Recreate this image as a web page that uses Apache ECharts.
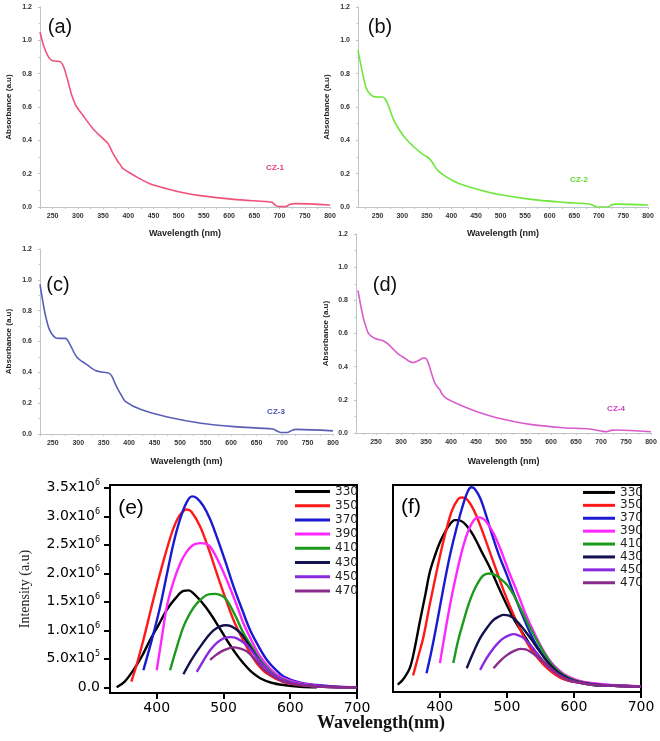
<!DOCTYPE html>
<html><head><meta charset="utf-8">
<script src="https://cdn.jsdelivr.net/npm/echarts@6/dist/echarts.min.js"></script>
<style>html,body{margin:0;padding:0;background:#fff}#c{width:660px;height:741px}</style>
</head><body><div id="c"></div>
<script>
// ---------- Absorbance data (a)-(d): [wavelength nm, absorbance a.u.] ----------
const absCZ1 = [[225,1.05],[232,0.97],[240,0.91],[248,0.88],[258,0.875],[266,0.87],[272,0.84],[280,0.76],[288,0.67],[296,0.61],[310,0.55],[330,0.47],[350,0.41],[360,0.38],[370,0.32],[380,0.27],[385,0.25],[388,0.235],[400,0.21],[420,0.175],[443,0.14],[476,0.11],[509,0.086],[543,0.068],[609,0.046],[675,0.032],[685,0.028],[692,0.01],[700,0.002],[712,0.002],[720,0.015],[730,0.02],[800,0.012]];
const absCZ2 = [[210,0.94],[216,0.85],[221,0.78],[226,0.72],[231,0.69],[240,0.665],[252,0.66],[260,0.66],[266,0.645],[273,0.60],[283,0.52],[297,0.45],[310,0.40],[324,0.36],[340,0.32],[351,0.30],[358,0.28],[365,0.25],[372,0.22],[385,0.19],[405,0.155],[426,0.13],[460,0.10],[494,0.076],[562,0.046],[630,0.028],[680,0.018],[688,0.01],[695,0.0],[718,0.0],[726,0.014],[735,0.017],[800,0.012]];
const absCZ3 = [[225,0.97],[230,0.87],[235,0.78],[242,0.69],[248,0.65],[255,0.625],[262,0.62],[275,0.62],[284,0.58],[297,0.50],[317,0.45],[335,0.41],[350,0.40],[360,0.395],[366,0.375],[372,0.33],[378,0.29],[385,0.25],[393,0.21],[422,0.16],[475,0.11],[541,0.07],[606,0.048],[682,0.032],[690,0.02],[698,0.01],[711,0.01],[720,0.025],[728,0.03],[800,0.02]];
const absCZ4 = [[214,0.86],[220,0.76],[225,0.69],[230,0.64],[235,0.60],[248,0.57],[265,0.555],[275,0.535],[283,0.51],[293,0.48],[303,0.46],[315,0.435],[323,0.425],[330,0.43],[337,0.44],[345,0.452],[350,0.45],[356,0.41],[362,0.35],[368,0.30],[375,0.27],[378,0.26],[382,0.235],[390,0.21],[410,0.18],[425,0.16],[460,0.12],[491,0.092],[558,0.052],[625,0.032],[678,0.024],[700,0.012],[711,0.008],[720,0.016],[730,0.018],[800,0.008]];

const absTickLabels = [250,300,350,400,450,500,550,600,650,700,750,800];
const absMinorTicks = [225,250,275,300,325,350,375,400,425,450,475,500,525,550,575,600,625,650,675,700,725,750,775,800];

// ---------- Emission data (e),(f): [wavelength nm, intensity x10^6 a.u.] ----------
const excitation = ['330','350','370','390','410','430','450','470'];
const e330 = [[340,0.0],[352,0.1],[365,0.3],[378,0.55],[390,0.83],[403,1.1],[415,1.36],[428,1.56],[440,1.69],[448,1.70],[455,1.65],[467,1.50],[480,1.30],[493,1.06],[505,0.83],[518,0.60],[530,0.42],[542,0.27],[555,0.16],[572,0.08],[590,0.04],[615,0.01],[640,0.0]];
const e350 = [[362,0.1],[370,0.4],[380,0.83],[393,1.45],[405,2.0],[415,2.42],[425,2.79],[435,3.03],[445,3.12],[452,3.08],[465,2.82],[478,2.42],[490,2.0],[503,1.56],[515,1.18],[528,0.86],[540,0.6],[552,0.39],[565,0.24],[590,0.09],[615,0.04],[650,0.01],[700,0.0]];
const e370 = [[380,0.3],[393,0.85],[405,1.41],[415,1.97],[425,2.52],[435,2.95],[445,3.25],[453,3.35],[460,3.32],[470,3.18],[480,2.95],[490,2.64],[503,2.2],[515,1.77],[528,1.36],[540,1.0],[553,0.71],[565,0.48],[578,0.31],[590,0.19],[615,0.08],[640,0.04],[670,0.01],[700,0.0]];
const e390 = [[400,0.3],[408,0.9],[415,1.41],[425,1.85],[435,2.17],[445,2.38],[455,2.50],[465,2.53],[473,2.52],[480,2.47],[492,2.22],[505,1.88],[518,1.5],[530,1.12],[543,0.8],[555,0.54],[568,0.35],[580,0.22],[598,0.12],[615,0.07],[650,0.02],[700,0.0]];
const e410 = [[420,0.3],[430,0.7],[440,1.06],[450,1.3],[460,1.47],[475,1.62],[488,1.64],[497,1.61],[505,1.53],[518,1.25],[530,0.95],[543,0.7],[555,0.48],[568,0.31],[580,0.19],[598,0.1],[615,0.05],[650,0.01],[700,0.0]];
const e430 = [[440,0.23],[452,0.48],[465,0.71],[475,0.87],[485,1.0],[495,1.07],[503,1.09],[512,1.07],[525,0.96],[535,0.8],[545,0.62],[557,0.42],[570,0.26],[585,0.14],[605,0.07],[640,0.02],[700,0.0]];
const e450 = [[460,0.27],[470,0.47],[480,0.65],[490,0.78],[500,0.86],[510,0.88],[520,0.86],[535,0.74],[548,0.55],[560,0.38],[575,0.22],[590,0.12],[615,0.05],[650,0.01],[700,0.0]];
const e470 = [[480,0.48],[488,0.56],[497,0.63],[507,0.68],[515,0.70],[525,0.68],[535,0.63],[548,0.48],[560,0.32],[575,0.19],[590,0.10],[615,0.04],[650,0.01],[700,0.0]];

const f330 = [[337,0.03],[345,0.12],[355,0.32],[362,0.65],[370,1.14],[378,1.6],[385,2.02],[393,2.32],[400,2.54],[408,2.73],[415,2.86],[422,2.93],[428,2.93],[435,2.89],[442,2.8],[450,2.66],[462,2.38],[475,2.08],[487,1.76],[500,1.43],[512,1.15],[525,0.91],[537,0.69],[550,0.50],[562,0.33],[575,0.2],[590,0.11],[605,0.07],[630,0.02],[660,0.01],[700,0.0]];
const f350 = [[360,0.19],[367,0.5],[375,0.85],[385,1.45],[395,2.02],[403,2.45],[410,2.78],[418,3.1],[427,3.3],[433,3.33],[440,3.3],[450,3.12],[460,2.84],[472,2.45],[485,2.02],[497,1.63],[510,1.26],[522,0.95],[535,0.67],[548,0.47],[560,0.32],[580,0.15],[600,0.08],[630,0.03],[660,0.01],[700,0.0]];
const f370 = [[380,0.23],[387,0.6],[395,1.08],[405,1.72],[415,2.31],[425,2.8],[435,3.22],[442,3.45],[447,3.51],[452,3.48],[460,3.32],[468,3.05],[475,2.78],[487,2.35],[500,1.96],[512,1.58],[525,1.2],[537,0.88],[550,0.61],[562,0.41],[575,0.26],[590,0.15],[600,0.11],[625,0.05],[650,0.02],[700,0.0]];
const f390 = [[400,0.41],[407,0.9],[415,1.43],[425,2.0],[435,2.48],[443,2.76],[450,2.92],[457,2.98],[464,2.96],[470,2.89],[480,2.7],[490,2.43],[502,2.05],[515,1.67],[527,1.3],[540,0.96],[552,0.68],[565,0.44],[578,0.28],[590,0.18],[607,0.1],[625,0.06],[660,0.02],[700,0.0]];
const f410 = [[420,0.41],[427,0.8],[435,1.14],[442,1.42],[450,1.67],[458,1.85],[465,1.96],[475,1.99],[483,1.96],[490,1.9],[500,1.79],[510,1.61],[522,1.33],[535,1.02],[548,0.74],[560,0.50],[572,0.32],[585,0.2],[600,0.11],[625,0.04],[660,0.01],[700,0.0]];
const f430 = [[440,0.32],[450,0.6],[460,0.85],[470,1.03],[480,1.17],[488,1.23],[495,1.26],[502,1.25],[510,1.2],[522,1.05],[535,0.85],[548,0.63],[560,0.44],[572,0.29],[585,0.18],[600,0.1],[625,0.04],[660,0.01],[700,0.0]];
const f450 = [[460,0.29],[470,0.5],[480,0.67],[488,0.78],[495,0.85],[503,0.9],[510,0.92],[517,0.9],[525,0.85],[537,0.7],[550,0.50],[562,0.34],[575,0.22],[590,0.12],[610,0.06],[640,0.02],[700,0.0]];
const f470 = [[480,0.32],[490,0.45],[500,0.55],[510,0.62],[520,0.66],[528,0.65],[535,0.61],[548,0.5],[560,0.38],[572,0.25],[585,0.15],[600,0.09],[625,0.03],[660,0.01],[700,0.0]];

const intensityTicks = [0,0.5e6,1.0e6,1.5e6,2.0e6,2.5e6,3.0e6,3.5e6];
const emTickLabels = [400,500,600,700];

// ---------- styling ----------
const absColors = ['#f0527a','#6fe63a','#5a5fb6','#d85ccb'];
const absText = ['#e8406e','#62dc30','#4a50b0','#d040c4'];
const emColors = ['#000000','#ff1a1a','#1a1ad0','#ff26ff','#1c9a1c','#12124e','#8a2ae0','#8a2a8a'];

const chart = echarts.init(document.getElementById('c'), null, {renderer:'canvas'});

const absGrids = [
  {left:40, top:7, width:290, height:200, xmin:225},
  {left:358, top:7, width:290, height:200, xmin:210},
  {left:40, top:249, width:293, height:185, xmin:225},
  {left:356, top:234, width:295, height:199, xmin:210}
];
const absYGap = [27, 27, 27, 26];
const absXGap = [22, 22, 23, 24];

const grid = [], xAxis = [], yAxis = [], series = [];
const axGray = '#bcc4cc';
const tinyLabel = {fontSize:7, fontWeight:'bold', fontFamily:'Liberation Sans', color:'#333'};

absGrids.forEach((g,i)=>{
  grid.push({left:g.left, top:g.top, width:g.width, height:g.height});
  xAxis.push({type:'value', gridIndex:i, min:g.xmin, max:800,
    name:'Wavelength (nm)', nameLocation:'middle', nameGap:absXGap[i],
    nameTextStyle:{fontSize:9, fontWeight:'bold', fontFamily:'Liberation Sans', color:'#222'},
    axisLine:{show:true, onZero:false, lineStyle:{color:axGray, width:1}},
    axisTick:{show:true, length:2, inside:false, customValues:absMinorTicks.filter(v=>v>=g.xmin), lineStyle:{color:axGray}},
    axisLabel:{customValues:absTickLabels, margin:6, ...tinyLabel},
    splitLine:{show:false}});
  yAxis.push({type:'value', gridIndex:i, min:0, max:1.2, interval:0.2,
    name:'Absorbance (a.u)', nameLocation:'middle', nameGap:absYGap[i], nameRotate:90,
    nameTextStyle:{fontSize:8, fontWeight:'bold', fontFamily:'Liberation Sans', color:'#222'},
    axisLine:{show:true, lineStyle:{color:axGray, width:1}},
    axisTick:{show:true, length:2, lineStyle:{color:axGray}},
    minorTick:{show:true, splitNumber:2, length:1.5, lineStyle:{color:axGray}},
    axisLabel:{margin:8, formatter:v=>v.toFixed(1), ...tinyLabel},
    splitLine:{show:false}});
});
[absCZ1,absCZ2,absCZ3,absCZ4].forEach((d,i)=>{
  series.push({type:'line', name:'CZ-'+(i+1), xAxisIndex:i, yAxisIndex:i, data:d,
    showSymbol:false, smooth:0.3, lineStyle:{color:absColors[i], width:1.6}, itemStyle:{color:absColors[i]}, silent:true});
});

// emission panels
function sciLabel(v){
  if (Math.abs(v) < 1) return '{b|0.0}';
  const e = Math.floor(Math.log10(v) + 1e-9);
  const m = (v/Math.pow(10,e)).toFixed(1);
  return '{b|' + m + 'x10}{s|' + e + '}';
}
const emGrids = [
  {left:110, top:485, width:247, height:208},
  {left:393, top:485, width:248, height:207}
];
emGrids.forEach((g,k)=>{
  const gi = 4+k;
  grid.push({left:g.left, top:g.top, width:g.width, height:g.height, show:true, borderColor:'#000', borderWidth:2, backgroundColor:'transparent'});
  xAxis.push({type:'value', gridIndex:gi, min:330, max:700,
    axisLine:{show:true, onZero:false, lineStyle:{color:'#000', width:2}},
    axisTick:{show:true, length:6, customValues:emTickLabels, lineStyle:{color:'#000', width:2}},
    axisLabel:{customValues:emTickLabels, margin:8, fontSize:14, fontFamily:'DejaVu Sans', color:'#000'},
    splitLine:{show:false}});
  yAxis.push({type:'value', gridIndex:gi, min:-0.1e6, max:3.55e6,
    name: k===0 ? 'Intensity (a.u)' : '', nameLocation:'middle', nameGap:78, nameRotate:90,
    nameTextStyle:{fontSize:14, fontFamily:'Liberation Serif', color:'#222'},
    axisLine:{show:true, onZero:false, lineStyle:{color:'#000', width:2}},
    axisTick:{show:k===0, length:6, customValues:intensityTicks, lineStyle:{color:'#000', width:2}},
    axisLabel:{show:k===0, customValues:intensityTicks, margin:10, formatter:sciLabel,
      rich:{b:{fontSize:14, fontFamily:'DejaVu Sans', color:'#000'},
            s:{fontSize:8, fontFamily:'DejaVu Sans', color:'#000', padding:[0,0,9,0]}}},
    splitLine:{show:false}});
});
const eSets = [e330,e350,e370,e390,e410,e430,e450,e470];
const fSets = [f330,f350,f370,f390,f410,f430,f450,f470];
[eSets,fSets].forEach((sets,k)=>{
  sets.forEach((d,i)=>{
    series.push({type:'line', name:excitation[i], xAxisIndex:4+k, yAxisIndex:4+k,
      data:d.map(p=>[p[0], p[1]*1e6]), showSymbol:false, smooth:0.35,
      lineStyle:{color:emColors[i], width:2.4}, itemStyle:{color:emColors[i]}, silent:true});
  });
});

const legendCommon = {orient:'vertical', icon:'rect', itemHeight:3, selectedMode:false, padding:0,
  data:excitation.slice(), textStyle:{fontSize:12, fontFamily:'DejaVu Sans', color:'#222'}};

const txt = (t,x,y,size,color,font,weight,rot)=>({type:'text', x:x, y:y, rotation:rot||0,
  style:{text:t, fill:color, fontSize:size, fontFamily:font, fontWeight:weight||'normal', textAlign:'center', textVerticalAlign:'middle'}, silent:true});

chart.setOption({
  animation:false,
  backgroundColor:'#fff',
  grid, xAxis, yAxis, series,
  legend:[
    Object.assign({}, legendCommon, {left:295, top:485, itemWidth:35, itemGap:1.2, textStyle:Object.assign({}, legendCommon.textStyle, {lineHeight:13})}),
    Object.assign({}, legendCommon, {left:583, top:486, itemWidth:32, itemGap:0, textStyle:Object.assign({}, legendCommon.textStyle, {lineHeight:12.9})})
  ],
  graphic:[
    txt('(a)', 60, 27, 20, '#111', 'Liberation Sans'),
    txt('(b)', 380, 27, 20, '#111', 'Liberation Sans'),
    txt('(c)', 58, 285, 20, '#111', 'Liberation Sans'),
    txt('(d)', 385, 285, 20, '#111', 'Liberation Sans'),
    txt('CZ-1', 275, 168, 8, absText[0], 'Liberation Sans', 'bold'),
    txt('CZ-2', 579, 180, 8, absText[1], 'Liberation Sans', 'bold'),
    txt('CZ-3', 276, 412, 8, absText[2], 'Liberation Sans', 'bold'),
    txt('CZ-4', 616, 409, 8, absText[3], 'Liberation Sans', 'bold'),
    txt('(e)', 131, 508, 21, '#000', 'Liberation Sans'),
    txt('(f)', 411, 507, 21, '#000', 'Liberation Sans'),
    txt('Wavelength(nm)', 381, 723, 18, '#111', 'Liberation Serif', 'bold')
  ]
});
</script></body></html>
